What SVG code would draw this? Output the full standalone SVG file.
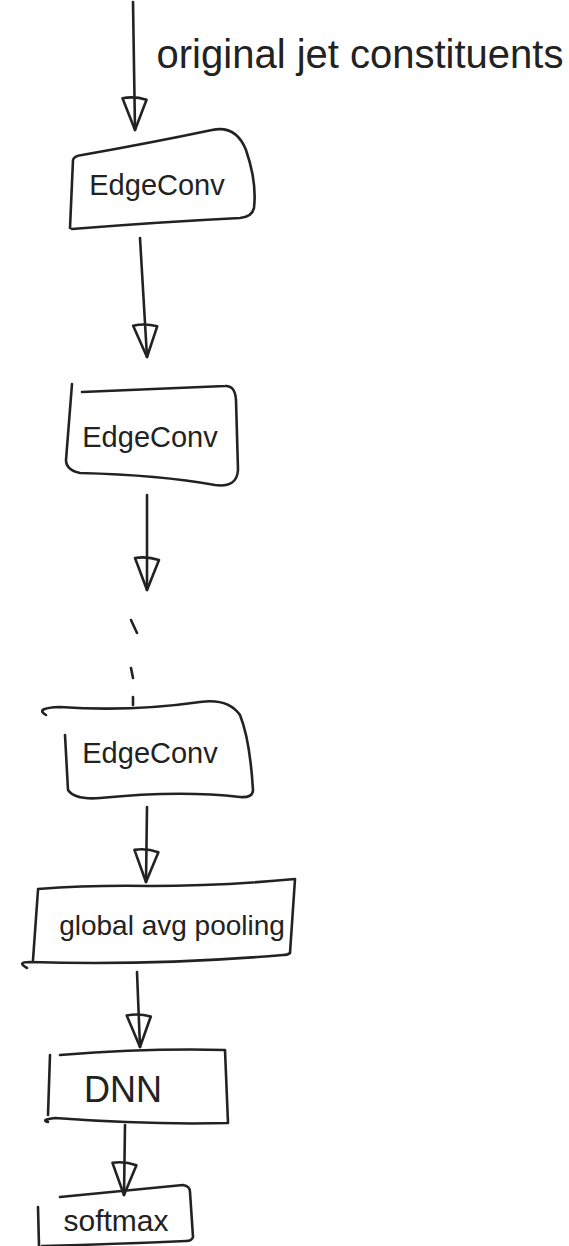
<svg xmlns="http://www.w3.org/2000/svg" width="569" height="1246" viewBox="0 0 569 1246">
<style>
.s{fill:none;stroke:#222;stroke-width:2.6;stroke-linecap:round;stroke-linejoin:round}
.t{font-family:"Liberation Sans",Arial,sans-serif;fill:#222;text-anchor:middle}
</style>
<defs>
<marker id="ah" markerUnits="userSpaceOnUse" markerWidth="50" markerHeight="50" viewBox="-40 -25 50 50" refX="0" refY="0" orient="auto">
<path d="M -30 -12 L 0 0 L -32 12 Q -34 0 -30 -12 Z" fill="none" stroke="#222" stroke-width="2.6" stroke-linejoin="round"/>
</marker>
</defs>
<rect width="569" height="1246" fill="#fff"/>
<g id="connectors">
<path class="s" d="M 133 2 L 135 130" marker-end="url(#ah)"/>
<path class="s" d="M 140 238 L 147 357" marker-end="url(#ah)"/>
<path class="s" d="M 147 495 L 147 590" marker-end="url(#ah)"/>
<path class="s" d="M 131 620 L 137 633 M 131 668 L 133 678 M 133 697 L 133 705"/>
<path class="s" d="M 147 807 L 146 882" marker-end="url(#ah)"/>
<path class="s" d="M 137 972 L 140 1047" marker-end="url(#ah)"/>
<path class="s" d="M 125 1125 L 124 1195" marker-end="url(#ah)"/>
</g>
<g id="label-input">
<text class="t" x="360" y="68" font-size="40">original jet constituents</text>
</g>
<g id="edgeconv1">
<path class="s" d="M 70 228 L 73 160 Q 74 156 82 155 Q 150 143 212 130 Q 236 125 246 150 Q 257 182 254 208 Q 252 217 240 218 Q 160 222 72 229"/>
<text class="t" x="157" y="195" font-size="29">EdgeConv</text>
</g>
<g id="edgeconv2">
<path class="s" d="M 72 384 L 66 460 Q 66 470 80 473 Q 160 475 215 485 Q 237 488 238 470 L 236 400 Q 235 385 225 386 L 82 392"/>
<text class="t" x="150" y="447" font-size="29">EdgeConv</text>
</g>
<g id="edgeconv3">
<path class="s" d="M 46 715 Q 34 708 60 707 Q 130 712 200 702 Q 228 698 240 715 Q 250 740 253 790 Q 253 798 240 797 Q 180 790 100 798 Q 75 800 68 790 L 65 735"/>
<text class="t" x="150" y="763" font-size="29">EdgeConv</text>
</g>
<g id="global-avg-pooling">
<path class="s" d="M 38 889 Q 90 885 150 886 Q 220 886 295 879 L 290 953 Q 288 955 283 955 Q 150 966 30 962 Q 16 962 27 968 M 38 890 L 33 960"/>
<text class="t" x="172" y="935" font-size="28">global avg pooling</text>
</g>
<g id="dnn">
<path class="s" d="M 50 1055 L 48 1115 M 60 1055 Q 150 1048 225 1050 L 228 1123 Q 150 1125 55 1118 Q 40 1120 48 1122"/>
<text class="t" x="123" y="1102" font-size="36">DNN</text>
</g>
<g id="softmax">
<path class="s" d="M 38 1207 L 39 1246 M 60 1197 Q 130 1190 183 1185 Q 190 1186 190 1192 L 193 1237 Q 192 1241 186 1241 Q 120 1244 42 1246"/>
<text class="t" x="116" y="1231" font-size="30">softmax</text>
</g>
</svg>
